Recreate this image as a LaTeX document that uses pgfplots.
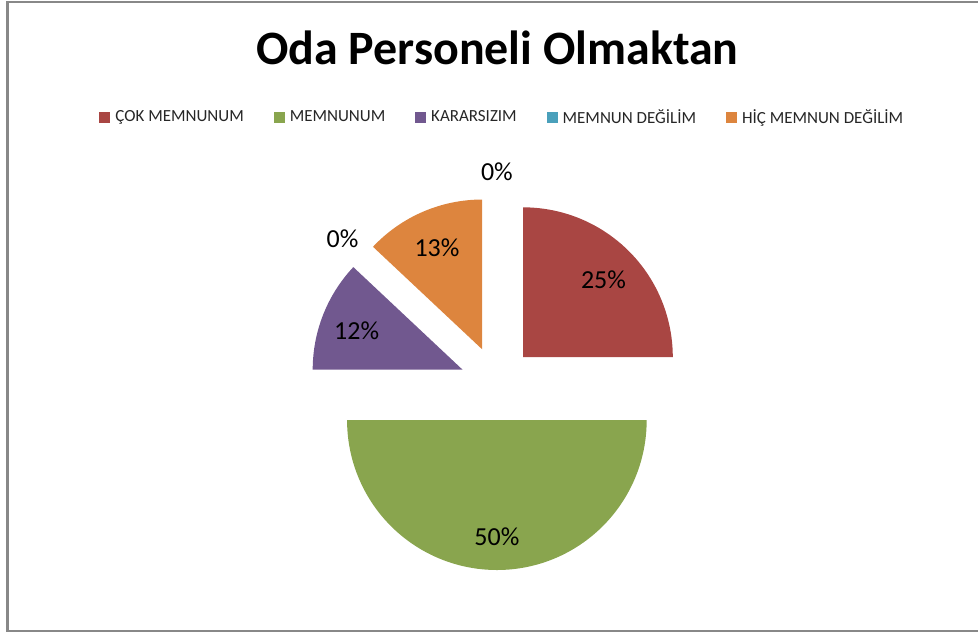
\documentclass[border=0pt]{standalone}
\usepackage{pgfplots}
\pgfplotsset{compat=1.18}
\usepackage{fontspec}
\setmainfont{Carlito}

\definecolor{cred}{RGB}{169,70,67}
\definecolor{cgreen}{RGB}{137,165,78}
\definecolor{cpurple}{RGB}{113,88,143}
\definecolor{caqua}{RGB}{74,160,187}
\definecolor{corange}{RGB}{221,133,62}
\definecolor{frame}{RGB}{136,136,136}

% pie geometry, in pixels of the 979x632 picture (y up)
\def\cx{497.5}
\def\cy{249.5}
\def\rad{150}
\def\expl{37}
\newcommand\labelfont{\fontsize{26}{30}\selectfont}

\begin{document}
\begin{tikzpicture}
\begin{axis}[
    width=979pt, height=632pt, scale only axis,
    xmin=0, xmax=979, ymin=0, ymax=632,
    hide axis, clip=false,
    legend columns=5,
    legend style={
        at={(axis cs:503,516)}, anchor=center,
        draw=none, fill=none, inner sep=0pt,
        font=\fontsize{17}{20}\selectfont, text=black!85,
        nodes={inner xsep=2pt, inner ysep=0pt},
        /tikz/every odd column/.append style={column sep=3pt},
        /tikz/every even column/.append style={column sep=28pt}},
    legend image code/.code={\fill[#1] (0pt,-5.5pt) rectangle (11pt,5.5pt);},
]
\path (axis cs:0,0) rectangle (axis cs:979,632);
% frame (left, top, bottom edges)
\draw[frame, line width=2.5pt] (axis cs:979,1.5) -- (axis cs:7.5,1.5) -- (axis cs:7.5,632);
\draw[frame, line width=1.5pt] (axis cs:7.5,631.25) -- (axis cs:979,631.25);

\node[font=\bfseries\fontsize{48}{56}\selectfont, anchor=base] at (axis cs:498,569) {Oda Personeli Olmaktan};

\addlegendimage{fill=cred, draw=none}
\addlegendentry{ÇOK MEMNUNUM}
\addlegendimage{fill=cgreen, draw=none}
\addlegendentry{MEMNUNUM}
\addlegendimage{fill=cpurple, draw=none}
\addlegendentry{KARARSIZIM}
\addlegendimage{fill=caqua, draw=none}
\addlegendentry{MEMNUN DEĞİLİM}
\addlegendimage{fill=corange, draw=none}
\addlegendentry{HİÇ MEMNUN DEĞİLİM}

% slices, clockwise from 12 o'clock, each pulled out along its bisector
\gdef\cum{0}
\foreach \v/\col in {25/cred, 50/cgreen, 12/cpurple, 0/caqua, 13/corange, 0/white} {
    \pgfmathsetmacro\sa{90-3.6*\cum}
    \pgfmathsetmacro\ea{90-3.6*(\cum+\v)}
    \pgfmathsetmacro\ma{(\sa+\ea)/2}
    \pgfmathsetmacro\ox{\cx+\expl*cos(\ma)}
    \pgfmathsetmacro\oy{\cy+\expl*sin(\ma)}
    \ifnum\v>0
        \pgfmathsetmacro\lx{\ox+114*cos(\ma)}
        \pgfmathsetmacro\ly{\oy+114*sin(\ma)-3}
        \edef\tmp{\noexpand\fill[\col] (axis cs:\ox,\oy) -- ++(\sa:\rad pt)
            arc[start angle=\sa, end angle=\ea, radius=\rad pt] -- cycle;}
        \tmp
    \else
        \pgfmathsetmacro\lx{\cx+212*cos(\ma)}
        \pgfmathsetmacro\ly{\cy+212*sin(\ma)}
    \fi
    \edef\tmp{\noexpand\node[font=\noexpand\labelfont] at (axis cs:\lx,\ly) {\v\noexpand\%};}
    \tmp
    \pgfmathsetmacro\nc{\cum+\v}
    \xdef\cum{\nc}
}
\end{axis}
\end{tikzpicture}
\end{document}
